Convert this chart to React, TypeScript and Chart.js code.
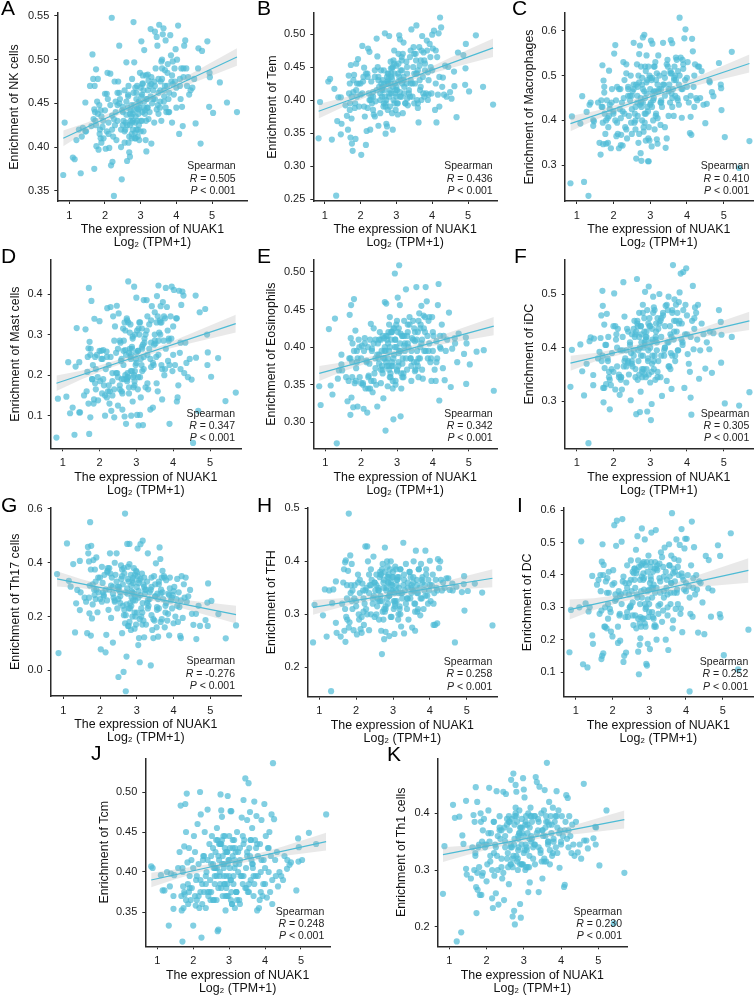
import React, { useEffect, useRef } from "react";
import { Chart, registerables } from "chart.js";

Chart.register(...registerables);

const FONT = "'Liberation Sans', Arial, sans-serif";
const BLUE = "#4DBBD5";
const POINT = "rgba(77,187,213,0.7)";
const BAND = "rgba(170,170,170,0.26)";

const xTicks = [1, 2, 3, 4, 5];
const fitX = [0.83, 5.7];
const bandX = [0.83, 1.5, 2.2, 3, 3.8, 4.5, 5.7];

const expression = [
  0.83,0.87,1.10,1.15,1.20,1.27,1.32,1.35,1.38,1.45,
  1.45,1.47,1.58,1.62,1.65,1.67,1.68,1.70,1.71,1.72,
  1.73,1.75,1.76,1.78,1.80,1.82,1.84,1.86,1.88,1.90,
  1.93,1.96,2.00,2.02,2.05,2.07,2.10,2.12,2.15,2.17,
  2.19,2.21,2.23,2.25,2.27,2.30,2.32,2.35,2.37,2.40,
  2.42,2.45,2.47,2.50,2.52,2.55,2.57,2.60,2.62,2.64,
  2.66,2.68,2.70,2.72,2.74,2.76,2.78,2.80,2.82,2.84,
  2.86,2.88,2.90,2.92,2.94,2.96,2.98,3.00,3.02,3.04,
  3.06,3.08,3.10,3.12,3.14,3.16,3.18,3.20,3.22,3.25,
  3.28,3.30,3.32,3.35,3.38,3.40,3.42,3.45,3.47,3.50,
  3.52,3.54,3.56,3.58,3.60,3.62,3.64,3.66,3.68,3.70,
  3.72,3.74,3.76,3.78,3.80,3.83,3.86,3.88,3.90,3.93,
  3.96,3.98,4.00,4.02,4.05,4.08,4.10,4.12,4.14,4.16,
  4.18,4.20,4.22,4.25,4.28,4.30,4.33,4.36,4.40,4.45,
  4.50,4.54,4.61,4.62,4.68,4.72,4.87,4.92,4.93,4.94,
  5.03,5.22,5.42,5.70,
  2.35,2.50,2.60,2.70,2.75,2.80,2.85,2.90,2.95,3.00,
  3.05,3.10,3.15,3.20,3.30,3.40,3.50,3.55,3.60,3.65,
  1.90,2.00,2.10,2.20,2.30,2.40,2.55,2.65,2.78,2.88,
  1.70,1.75,1.80,1.85,1.95,2.05,2.15,2.25,2.35,2.45,
  2.50,2.55,2.60,2.65,2.70,2.75,2.80,2.85,2.90,2.95,
  3.00,3.05,3.10,3.15,3.20,3.25,3.30,3.35,3.40,3.45,
  3.50,3.55,3.60,3.65,3.70,3.75,3.80,3.85,3.90,3.95,
  2.20,2.40,2.58,2.68,2.74,2.82,2.92,3.02,3.12,3.22,
  2.62,2.72,2.78,2.84,2.88,2.94,2.98,3.04,3.08,3.18,
  3.28,3.38,3.48,3.58,3.68,3.78,3.88,4.00,4.10,4.20,
  1.88,2.08,2.28,2.48,2.66,2.76,2.86,2.96,3.06,3.16,
];

const nkCells = [
  .368,.428,.388,.386,.408,.420,.370,.412,.422,.418,
  .451,.418,.470,.424,.506,.478,.432,.375,.470,.440,
  .430,.489,.401,.452,.478,.397,.448,.420,.442,.405,
  .423,.410,.461,.398,.461,.485,.415,.399,.484,.379,
  .548,.383,.412,.344,.475,.440,.408,.430,.475,.516,
  .455,.400,.363,.440,.430,.465,.420,.497,.384,.445,
  .405,.394,.389,.430,.448,.478,.420,.543,.497,.410,
  .435,.455,.470,.412,.443,.408,.485,.430,.521,.460,
  .473,.418,.511,.442,.408,.395,.455,.483,.432,.470,
  .535,.404,.450,.465,.428,.532,.490,.526,.516,.462,
  .540,.445,.475,.430,.500,.529,.536,.458,.488,.522,
  .440,.470,.495,.455,.440,.528,.475,.428,.498,.460,
  .475,.512,.445,.500,.539,.415,.470,.455,.490,.446,
  .424,.480,.516,.522,.490,.470,.480,.460,.465,.468,
  .478,.427,.490,.513,.404,.510,.521,.446,.485,.480,
  .439,.474,.451,.440,
  .448,.425,.452,.438,.410,.462,.428,.444,.425,.468,
  .440,.452,.482,.445,.472,.455,.438,.465,.478,.452,
  .435,.442,.428,.420,.452,.462,.405,.458,.438,.420,
  .443,.425,.438,.415,.430,.418,.448,.432,.462,.420,
  .446,.418,.437,.460,.425,.415,.442,.468,.430,.452,
  .418,.472,.445,.430,.465,.440,.480,.455,.470,.443,
  .478,.452,.490,.465,.445,.485,.462,.505,.472,.490,
  .436,.450,.428,.412,.435,.448,.420,.458,.438,.476,
  .425,.442,.430,.416,.462,.438,.450,.430,.465,.445,
  .458,.475,.448,.498,.470,.440,.482,.468,.478,.490,
  .410,.455,.425,.442,.470,.428,.410,.445,.482,.455,
];

const tem = [
  .342,.397,.428,.432,.340,.417,.255,.368,.404,.348,
  .404,.364,.392,.376,.355,.437,.410,.425,.395,.343,
  .453,.372,.334,.323,.412,.438,.388,.341,.455,.425,
  .462,.390,.408,.317,.482,.428,.449,.375,.332,.353,
  .440,.478,.410,.473,.355,.428,.395,.412,.378,.435,
  .398,.493,.466,.361,.420,.380,.445,.405,.430,.390,
  .415,.501,.349,.364,.360,.440,.425,.497,.390,.458,
  .410,.432,.355,.400,.475,.425,.385,.452,.415,.378,
  .470,.498,.492,.430,.405,.445,.380,.487,.420,.395,
  .458,.440,.392,.415,.465,.430,.507,.405,.450,.395,
  .425,.470,.513,.400,.445,.366,.480,.415,.460,.400,
  .497,.435,.472,.405,.455,.410,.475,.442,.408,.485,
  .450,.410,.499,.478,.505,.385,.425,.366,.465,.408,
  .501,.390,.525,.510,.420,.434,.408,.452,.405,.450,
  .412,.402,.443,.421,.374,.472,.468,.423,.448,.485,
  .413,.498,.420,.393,
  .405,.435,.418,.395,.428,.410,.448,.420,.440,.405,
  .428,.412,.460,.435,.402,.425,.470,.440,.388,.452,
  .405,.425,.390,.435,.405,.375,.410,.395,.432,.448,
  .385,.405,.430,.395,.425,.410,.440,.400,.385,.415,
  .430,.400,.415,.445,.390,.425,.405,.435,.450,.395,
  .420,.440,.405,.465,.430,.395,.450,.410,.475,.425,
  .440,.460,.395,.430,.475,.410,.445,.490,.430,.465,
  .388,.445,.425,.405,.435,.415,.460,.395,.445,.410,
  .420,.400,.440,.425,.380,.455,.415,.395,.435,.470,
  .425,.405,.480,.440,.420,.460,.400,.445,.475,.435,
  .415,.435,.400,.450,.425,.385,.440,.410,.455,.425,
];

const macrophages = [
  .260,.409,.393,.454,.263,.419,.232,.435,.440,.401,
  .388,.398,.440,.350,.324,.445,.430,.523,.395,.347,
  .489,.462,.415,.370,.348,.445,.405,.385,.511,.425,
  .338,.470,.415,.549,.568,.445,.395,.370,.338,.425,
  .470,.368,.440,.344,.530,.415,.385,.525,.360,.475,
  .410,.445,.500,.370,.465,.573,.395,.430,.315,.525,
  .410,.350,.548,.567,.327,.310,.495,.585,.375,.591,
  .450,.355,.545,.430,.309,.309,.500,.470,.578,.342,
  .571,.400,.450,.380,.530,.490,.358,.348,.545,.470,
  .390,.470,.430,.573,.505,.455,.339,.360,.535,.410,
  .480,.440,.579,.505,.572,.470,.410,.520,.455,.490,
  .535,.450,.510,.480,.629,.540,.406,.470,.515,.583,
  .603,.450,.495,.530,.440,.372,.408,.368,.582,.554,
  .475,.430,.525,.450,.445,.520,.520,.450,.510,.435,
  .394,.437,.488,.485,.463,.454,.528,.480,.472,.423,
  .363,.553,.294,.354,
  .505,.455,.380,.485,.440,.470,.415,.460,.520,.435,
  .495,.465,.410,.480,.445,.495,.470,.505,.450,.490,
  .435,.420,.475,.405,.490,.455,.470,.440,.480,.415,
  .430,.475,.400,.350,.440,.400,.470,.420,.380,.455,
  .425,.480,.400,.455,.370,.520,.440,.395,.485,.360,
  .495,.430,.520,.465,.405,.500,.440,.480,.385,.525,
  .465,.510,.430,.495,.540,.445,.500,.470,.525,.490,
  .345,.470,.415,.500,.450,.385,.490,.440,.520,.465,
  .480,.435,.400,.465,.510,.420,.355,.490,.445,.505,
  .440,.480,.520,.460,.500,.435,.535,.475,.455,.500,
  .410,.365,.450,.395,.475,.430,.520,.385,.460,.415,
];

const mastCells = [
  .046,.142,.147,.232,.106,.120,.053,.221,.316,.108,
  .232,.108,.150,.313,.160,.208,.245,.266,.415,.055,
  .282,.096,.265,.383,.190,.225,.130,.339,.245,.165,
  .250,.138,.333,.185,.240,.155,.262,.175,.100,.215,
  .258,.365,.160,.225,.130,.368,.112,.185,.345,.096,
  .320,.205,.371,.125,.352,.165,.280,.240,.115,.315,
  .190,.098,.262,.080,.340,.205,.431,.155,.305,.245,
  .100,.265,.135,.195,.418,.300,.225,.391,.102,.260,
  .076,.330,.102,.145,.225,.210,.077,.385,.290,.170,
  .385,.250,.165,.325,.115,.280,.370,.120,.225,.355,
  .278,.245,.395,.160,.421,.305,.335,.370,.225,.140,
  .380,.285,.200,.340,.415,.368,.235,.285,.080,.345,
  .418,.210,.320,.410,.225,.340,.135,.145,.175,.408,
  .255,.215,.373,.406,.396,.205,.280,.230,.195,.240,
  .189,.033,.396,.243,.112,.355,.363,.300,.225,.256,
  .196,.242,.136,.157,
  .150,.265,.190,.310,.185,.255,.210,.295,.175,.230,
  .260,.195,.315,.245,.345,.220,.300,.180,.285,.330,
  .215,.260,.190,.145,.245,.285,.175,.225,.330,.210,
  .130,.250,.190,.140,.195,.260,.150,.175,.205,.255,
  .195,.285,.160,.260,.200,.335,.170,.240,.290,.185,
  .255,.195,.330,.270,.215,.300,.180,.265,.335,.230,
  .285,.330,.250,.300,.215,.345,.265,.310,.225,.290,
  .245,.165,.235,.330,.190,.265,.170,.310,.240,.280,
  .155,.250,.195,.325,.270,.200,.240,.165,.300,.275,
  .310,.240,.275,.345,.330,.215,.290,.250,.340,.280,
  .180,.240,.160,.205,.285,.195,.250,.210,.315,.265,
];

const eosinophils = [
  .348,.323,.424,.349,.337,.438,.272,.358,.369,.377,
  .390,.369,.360,.328,.355,.385,.443,.310,.412,.456,
  .333,.380,.405,.320,.464,.352,.422,.372,.395,.321,
  .410,.360,.385,.402,.352,.318,.412,.345,.382,.313,
  .400,.362,.378,.345,.431,.398,.340,.425,.365,.385,
  .350,.321,.405,.378,.420,.352,.395,.365,.332,.412,
  .460,.289,.458,.375,.348,.420,.395,.440,.365,.410,
  .380,.345,.304,.425,.498,.355,.400,.435,.466,.375,
  .509,.456,.308,.345,.415,.385,.360,.435,.395,.477,
  .370,.420,.400,.440,.385,.355,.412,.435,.380,.408,
  .370,.480,.395,.420,.360,.445,.385,.430,.455,.410,
  .358,.442,.395,.420,.480,.461,.385,.435,.405,.380,
  .355,.440,.395,.415,.370,.355,.408,.385,.456,.484,
  .329,.415,.398,.430,.372,.415,.356,.395,.410,.446,
  .347,.398,.412,.405,.380,.418,.391,.413,.351,.405,
  .377,.394,.396,.342,
  .405,.390,.370,.415,.385,.400,.375,.425,.410,.368,
  .392,.418,.378,.402,.430,.395,.368,.410,.385,.425,
  .385,.352,.405,.360,.395,.372,.410,.385,.430,.375,
  .385,.360,.395,.355,.400,.350,.380,.410,.355,.390,
  .410,.370,.415,.395,.380,.405,.360,.420,.385,.410,
  .370,.425,.395,.360,.415,.385,.405,.430,.375,.410,
  .420,.380,.435,.400,.370,.425,.395,.415,.440,.385,
  .345,.410,.375,.395,.415,.360,.390,.420,.365,.405,
  .385,.410,.370,.420,.355,.400,.430,.380,.405,.365,
  .415,.385,.425,.375,.405,.440,.395,.420,.380,.400,
  .380,.395,.355,.385,.400,.375,.420,.350,.395,.415,
];

const iDC = [
  .327,.396,.406,.356,.311,.370,.222,.412,.419,.330,
  .349,.417,.380,.392,.418,.460,.375,.506,.478,.325,
  .298,.443,.362,.405,.332,.463,.380,.420,.355,.285,
  .330,.390,.440,.501,.322,.415,.365,.435,.350,.312,
  .395,.345,.322,.420,.522,.458,.380,.335,.435,.372,
  .350,.405,.302,.425,.365,.385,.450,.345,.276,.528,
  .440,.375,.465,.280,.318,.410,.355,.480,.400,.430,
  .504,.345,.420,.281,.380,.514,.455,.335,.265,.295,
  .415,.495,.360,.470,.340,.430,.395,.455,.375,.500,
  .345,.420,.310,.465,.385,.440,.478,.338,.410,.495,
  .365,.440,.390,.323,.470,.554,.415,.490,.375,.450,
  .430,.465,.395,.485,.503,.538,.445,.410,.541,.325,
  .480,.548,.425,.388,.370,.355,.307,.275,.450,.515,
  .397,.435,.475,.465,.415,.480,.342,.395,.445,.425,
  .361,.410,.397,.430,.353,.427,.470,.448,.372,.424,
  .296,.420,.292,.317,
  .395,.370,.425,.350,.440,.385,.410,.360,.445,.400,
  .435,.375,.415,.345,.455,.400,.365,.425,.385,.450,
  .340,.355,.400,.345,.375,.430,.395,.445,.360,.415,
  .385,.325,.405,.375,.360,.440,.345,.395,.365,.410,
  .375,.435,.360,.450,.420,.385,.465,.350,.430,.395,
  .440,.370,.475,.420,.355,.445,.385,.460,.400,.480,
  .410,.360,.465,.430,.480,.395,.450,.415,.470,.425,
  .340,.375,.420,.395,.440,.360,.470,.410,.385,.435,
  .430,.400,.345,.455,.420,.375,.440,.355,.465,.410,
  .450,.395,.470,.420,.385,.445,.405,.460,.420,.455,
  .345,.425,.365,.390,.340,.425,.405,.350,.385,.445,
];

const th17Cells = [
  .358,.064,.472,.333,.311,.395,.141,.249,.299,.407,
  .224,.290,.270,.255,.138,.459,.435,.405,.212,.315,
  .551,.129,.463,.193,.245,.410,.300,.375,.265,.420,
  .216,.290,.265,.078,.385,.325,.275,.355,.067,.132,
  .260,.380,.225,.300,.435,.195,.345,.103,.270,.400,
  .355,.435,.230,-.025,.310,.275,.390,.138,.240,-.006,
  .360,.583,-.078,.051,.470,.165,.330,.470,.250,.150,
  .295,.200,.345,.380,.155,.260,.170,.310,.453,.094,
  .120,.030,.469,.230,.360,.482,.185,.123,.285,.170,
  .330,.435,.240,.290,.018,.205,.150,.120,.350,.320,
  .398,.160,.285,.125,.230,.457,.414,.300,.190,.370,
  .265,.350,.160,.240,.335,.185,.285,.130,.345,.260,
  .230,.280,.175,.310,.200,.265,.340,.180,.290,.235,
  .128,.120,.350,.195,.320,.270,.345,.255,.275,.299,
  .210,.169,.210,.116,.240,.165,.187,.252,.165,.323,
  .258,.209,.119,.167,
  .310,.265,.350,.205,.285,.395,.240,.325,.275,.365,
  .295,.340,.215,.310,.260,.345,.275,.225,.330,.285,
  .300,.345,.280,.365,.315,.255,.290,.380,.230,.335,
  .270,.375,.320,.280,.345,.255,.300,.380,.285,.330,
  .300,.250,.375,.205,.290,.340,.180,.315,.260,.355,
  .215,.325,.280,.170,.345,.300,.230,.265,.310,.190,
  .275,.235,.320,.180,.290,.345,.250,.210,.305,.270,
  .370,.260,.340,.175,.305,.230,.285,.350,.200,.300,
  .320,.245,.165,.355,.290,.215,.370,.270,.190,.320,
  .250,.300,.185,.265,.345,.215,.280,.295,.240,.260,
  .330,.290,.360,.310,.225,.385,.270,.200,.335,.250,
];

const tfh = [
  .247,.318,.298,.347,.258,.345,.155,.321,.347,.284,
  .362,.265,.258,.320,.360,.385,.269,.398,.248,.402,
  .295,.330,.290,.382,.490,.285,.411,.355,.395,.310,
  .270,.355,.325,.262,.375,.300,.340,.272,.265,.358,
  .345,.280,.320,.428,.310,.428,.400,.270,.355,.300,
  .365,.330,.409,.295,.345,.375,.315,.350,.290,.370,
  .335,.269,.225,.395,.360,.253,.426,.267,.345,.400,
  .320,.375,.259,.340,.400,.295,.355,.380,.310,.263,
  .390,.345,.325,.370,.290,.350,.310,.385,.277,.330,
  .435,.264,.345,.395,.310,.360,.290,.380,.330,.355,
  .275,.345,.400,.320,.269,.420,.365,.305,.340,.385,
  .350,.298,.395,.330,.370,.310,.355,.420,.385,.335,
  .365,.345,.401,.325,.355,.375,.280,.340,.280,.365,
  .350,.283,.404,.387,.400,.365,.345,.360,.350,.368,
  .368,.346,.358,.345,.247,.352,.342,.357,.372,.307,
  .344,.358,.341,.279,
  .340,.360,.325,.385,.350,.315,.370,.335,.360,.345,
  .325,.365,.340,.300,.375,.330,.350,.360,.320,.340,
  .345,.315,.365,.330,.300,.385,.355,.325,.305,.370,
  .310,.355,.275,.340,.330,.360,.295,.345,.375,.320,
  .360,.300,.345,.380,.325,.365,.310,.390,.335,.355,
  .370,.315,.355,.300,.385,.340,.365,.320,.350,.380,
  .340,.370,.305,.355,.385,.330,.360,.345,.375,.320,
  .305,.355,.330,.375,.290,.350,.385,.325,.365,.340,
  .345,.305,.380,.330,.360,.295,.370,.340,.385,.315,
  .355,.330,.370,.345,.310,.365,.335,.355,.320,.345,
  .325,.290,.350,.335,.375,.310,.360,.345,.320,.370,
];

const dc = [
  .161,.292,.300,.504,.124,.312,.114,.287,.300,.213,
  .397,.187,.370,.385,.280,.400,.350,.140,.441,.150,
  .495,.158,.431,.240,.300,.380,.235,.390,.310,.410,
  .295,.225,.210,.415,.554,.320,.490,.568,.190,.350,
  .275,.197,.340,.503,.573,.131,.150,.345,.160,.430,
  .270,.375,.300,.445,.350,.410,.245,.385,.275,.478,
  .340,.520,.163,.093,.184,.204,.430,.544,.265,.405,
  .355,.510,.240,.125,.120,.187,.460,.310,.171,.425,
  .531,.285,.410,.370,.240,.345,.539,.200,.430,.280,
  .390,.345,.470,.255,.425,.350,.485,.200,.360,.275,
  .168,.495,.395,.310,.460,.591,.235,.420,.345,.380,
  .295,.510,.355,.425,.400,.493,.296,.542,.223,.385,
  .482,.512,.350,.512,.400,.365,.040,.280,.430,.565,
  .271,.390,.486,.340,.400,.355,.222,.380,.375,.315,
  .217,.459,.359,.446,.271,.352,.492,.279,.459,.269,
  .152,.529,.108,.231,
  .375,.305,.420,.265,.385,.330,.440,.295,.410,.355,
  .385,.270,.420,.360,.310,.395,.340,.430,.375,.405,
  .345,.370,.325,.280,.395,.360,.315,.405,.350,.250,
  .290,.400,.240,.345,.285,.375,.240,.310,.270,.340,
  .385,.275,.420,.235,.445,.310,.395,.265,.430,.350,
  .285,.440,.360,.245,.420,.305,.380,.455,.330,.410,
  .300,.430,.375,.260,.410,.345,.445,.280,.395,.355,
  .335,.285,.405,.330,.250,.435,.300,.375,.265,.415,
  .360,.425,.240,.385,.310,.440,.270,.395,.330,.240,
  .435,.290,.385,.345,.450,.310,.405,.375,.330,.360,
  .265,.340,.380,.300,.415,.270,.390,.325,.360,.440,
];

const tcm = [
  .407,.405,.396,.377,.377,.400,.333,.382,.398,.354,
  .370,.396,.405,.425,.483,.370,.352,.313,.400,.382,
  .355,.432,.372,.485,.450,.498,.412,.360,.430,.395,
  .365,.380,.333,.445,.425,.358,.395,.460,.370,.355,
  .500,.472,.318,.385,.415,.375,.450,.355,.400,.478,
  .370,.435,.390,.410,.445,.365,.405,.385,.425,.440,
  .455,.326,.328,.415,.395,.497,.477,.469,.370,.445,
  .410,.430,.352,.395,.425,.495,.370,.445,.405,.476,
  .476,.360,.420,.385,.440,.355,.410,.375,.450,.400,
  .365,.430,.395,.468,.385,.490,.440,.517,.405,.465,
  .375,.511,.430,.475,.390,.415,.455,.405,.370,.488,
  .440,.395,.470,.352,.420,.355,.435,.400,.465,.370,
  .415,.485,.385,.445,.368,.430,.400,.450,.375,.420,
  .472,.360,.536,.466,.415,.395,.425,.382,.400,.395,
  .390,.420,.404,.415,.409,.412,.377,.442,.413,.431,
  .415,.449,.435,.472,
  .385,.420,.405,.380,.435,.410,.395,.425,.385,.415,
  .390,.430,.405,.375,.415,.395,.425,.385,.440,.410,
  .380,.405,.365,.390,.420,.375,.410,.395,.435,.385,
  .405,.375,.365,.385,.415,.370,.410,.360,.395,.375,
  .375,.430,.395,.365,.420,.385,.440,.405,.370,.425,
  .395,.365,.440,.415,.375,.425,.360,.395,.435,.380,
  .420,.375,.440,.410,.385,.430,.395,.365,.415,.385,
  .375,.415,.365,.440,.400,.420,.380,.430,.395,.365,
  .405,.435,.380,.410,.445,.370,.415,.390,.360,.425,
  .410,.445,.380,.420,.395,.435,.375,.405,.430,.390,
  .375,.390,.420,.365,.405,.435,.385,.410,.375,.430,
];

const th1Cells = [
  .258,.342,.415,.392,.174,.394,.190,.361,.346,.422,
  .302,.292,.285,.340,.397,.300,.385,.325,.446,.270,
  .224,.420,.265,.340,.305,.256,.400,.256,.350,.295,
  .390,.340,.280,.310,.405,.445,.315,.365,.250,.233,
  .385,.290,.345,.259,.439,.300,.239,.395,.355,.320,
  .285,.438,.247,.360,.434,.390,.330,.275,.370,.310,
  .459,.340,.218,.470,.228,.204,.450,.438,.385,.320,
  .355,.405,.240,.216,.310,.375,.462,.442,.428,.300,
  .395,.340,.365,.261,.305,.278,.410,.350,.385,.320,
  .395,.345,.464,.455,.370,.261,.447,.330,.400,.285,
  .360,.405,.441,.375,.315,.489,.385,.350,.420,.335,
  .395,.365,.325,.410,.350,.385,.340,.439,.375,.405,
  .304,.370,.345,.395,.360,.270,.274,.385,.432,.355,
  .427,.370,.395,.360,.330,.380,.345,.325,.385,.331,
  .345,.320,.452,.352,.352,.338,.356,.376,.345,.375,
  .308,.405,.206,.295,
  .370,.340,.385,.320,.355,.395,.335,.375,.310,.360,
  .345,.380,.325,.360,.395,.340,.370,.315,.385,.350,
  .370,.345,.325,.385,.360,.305,.380,.340,.410,.365,
  .330,.295,.345,.385,.345,.365,.300,.340,.375,.295,
  .350,.320,.395,.345,.305,.380,.325,.360,.310,.390,
  .330,.385,.305,.355,.395,.340,.310,.365,.385,.335,
  .370,.320,.395,.345,.310,.380,.355,.395,.330,.365,
  .330,.370,.305,.390,.345,.315,.375,.335,.400,.355,
  .385,.325,.400,.300,.365,.345,.310,.380,.335,.395,
  .345,.390,.315,.360,.380,.330,.395,.350,.370,.340,
  .290,.350,.325,.375,.310,.395,.340,.365,.305,.375,
];

type Panel = {
  letter: string; name: string; ys: number[]; r: string;
  fit: number[]; lo: number[]; hi: number[]; yTicks: number[]; dec: number;
  // layout in page pixels
  axis: number; right: number; top: number; bottom: number; x1: number; x5: number;
  yA: [number, number]; yB: [number, number]; titleX: number; noteR: number;
  letterX: number; letterBase: number;
};

const panels: Panel[] = [
  { letter: "A", name: "NK cells", ys: nkCells, r: "0.505", fit: [.41, .503],
    lo: [.401,.418,.433,.449,.463,.474,.493], hi: [.419,.428,.440,.454,.470,.486,.513],
    yTicks: [.35,.40,.45,.50,.55], dec: 2, axis: 57.3, right: 247.5, top: 13, bottom: 201, x1: 69.3, x5: 212,
    yA: [.55,16], yB: [.35,190.7], titleX: 15, noteR: 235.7, letterX: 1, letterBase: 15 },
  { letter: "B", name: "Tem", ys: tem, r: "0.436", fit: [.383, .479],
    lo: [.372,.389,.405,.422,.437,.448,.465], hi: [.394,.403,.414,.430,.446,.464,.493],
    yTicks: [.25,.30,.35,.40,.45,.50], dec: 2, axis: 313.3, right: 497, top: 13, bottom: 201, x1: 324.7, x5: 468,
    yA: [.50,34], yB: [.25,199], titleX: 272.3, noteR: 492.7, letterX: 257, letterBase: 15 },
  { letter: "C", name: "Macrophages", ys: macrophages, r: "0.410", fit: [.393, .527],
    lo: [.376,.401,.424,.447,.468,.483,.507], hi: [.410,.421,.438,.459,.482,.505,.547],
    yTicks: [.3,.4,.5,.6], dec: 1, axis: 564.7, right: 753, top: 13, bottom: 201, x1: 576.7, x5: 723.7,
    yA: [.6,30.7], yB: [.3,165.3], titleX: 530, noteR: 749.3, letterX: 512, letterBase: 15 },
  { letter: "D", name: "Mast cells", ys: mastCells, r: "0.347", fit: [.18, .327],
    lo: [.161,.189,.215,.240,.263,.279,.305], hi: [.199,.211,.229,.252,.277,.303,.349],
    yTicks: [.1,.2,.3,.4], dec: 1, axis: 50.7, right: 241, top: 260, bottom: 448.3, x1: 62.7, x5: 210,
    yA: [.4,294], yB: [.1,415.7], titleX: 16, noteR: 235, letterX: 1, letterBase: 263 },
  { letter: "E", name: "Eosinophils", ys: eosinophils, r: "0.342", fit: [.365, .428],
    lo: [.355,.368,.379,.390,.400,.406,.416], hi: [.375,.380,.387,.396,.408,.420,.440],
    yTicks: [.30,.35,.40,.45,.50], dec: 2, axis: 313.3, right: 497, top: 260, bottom: 448.3, x1: 325.3, x5: 468.7,
    yA: [.50,272], yB: [.30,422.3], titleX: 272, noteR: 492.7, letterX: 257, letterBase: 263 },
  { letter: "F", name: "iDC", ys: iDC, r: "0.305", fit: [.371, .45],
    lo: [.357,.374,.387,.401,.413,.421,.433], hi: [.385,.390,.399,.411,.425,.439,.467],
    yTicks: [.3,.4,.5], dec: 1, axis: 564.7, right: 753, top: 260, bottom: 448.3, x1: 576.7, x5: 723.7,
    yA: [.5,294], yB: [.3,401.3], titleX: 530, noteR: 749.3, letterX: 514, letterBase: 263 },
  { letter: "G", name: "Th17 cells", ys: th17Cells, r: "-0.276", fit: [.34, .207],
    lo: [.312,.305,.292,.272,.248,.221,.174], hi: [.368,.339,.314,.290,.270,.259,.240],
    yTicks: [0,.2,.4,.6], dec: 1, axis: 50.7, right: 241, top: 507.7, bottom: 696, x1: 63.3, x5: 210.3,
    yA: [.6,509], yB: [0,670.3], titleX: 15.7, noteR: 235, letterX: 1, letterBase: 512 },
  { letter: "H", name: "TFH", ys: tfh, r: "0.258", fit: [.313, .368],
    lo: [.299,.312,.323,.333,.341,.346,.351], hi: [.327,.330,.335,.343,.353,.364,.385],
    yTicks: [.2,.3,.4,.5], dec: 1, axis: 307.7, right: 497, top: 507.7, bottom: 696.7, x1: 319.3, x5: 466.7,
    yA: [.5,508.3], yB: [.2,667.3], titleX: 272, noteR: 492.3, letterX: 257, letterBase: 512 },
  { letter: "I", name: "DC", ys: dc, r: "0.252", fit: [.293, .414],
    lo: [.262,.292,.315,.337,.355,.364,.376], hi: [.324,.328,.339,.357,.379,.406,.452],
    yTicks: [.1,.2,.3,.4,.5,.6], dec: 1, axis: 563.7, right: 753, top: 508, bottom: 696.7, x1: 575.7, x5: 722.7,
    yA: [.6,510.3], yB: [.1,672], titleX: 528, noteR: 748.3, letterX: 517, letterBase: 512 },
  { letter: "J", name: "Tcm", ys: tcm, r: "0.248", fit: [.39, .438],
    lo: [.381,.391,.400,.408,.415,.420,.427], hi: [.399,.403,.408,.414,.423,.432,.449],
    yTicks: [.35,.40,.45,.50], dec: 2, axis: 145.3, right: 330, top: 758.3, bottom: 946.3, x1: 157.3, x5: 301,
    yA: [.50,792], yB: [.35,912], titleX: 105, noteR: 324.3, letterX: 91, letterBase: 760 },
  { letter: "K", name: "Th1 cells", ys: th1Cells, r: "0.230", fit: [.327, .389],
    lo: [.314,.327,.339,.350,.360,.364,.373], hi: [.340,.343,.349,.358,.370,.382,.405],
    yTicks: [.2,.3,.4], dec: 1, axis: 437.7, right: 627, top: 758.3, bottom: 946.3, x1: 449.3, x5: 598.3,
    yA: [.4,813.3], yB: [.2,926.7], titleX: 401.7, noteR: 622, letterX: 387, letterBase: 761 },
];

function ScatterPanel({ p }: { p: Panel }) {
  const ref = useRef<HTMLCanvasElement>(null);
  const TITLE_LH = 12.6;
  const left = Math.floor(p.titleX - TITLE_LH / 2 - 1);
  // the top margin must exceed half a tick label plus the tick padding, or Chart.js insets the y scale
  const top = Math.floor(p.top) - 14;
  const width = Math.ceil(p.right + 4 - left);
  const height = Math.ceil(p.bottom + 48 - top);

  useEffect(() => {
    const pxPerX = (p.x5 - p.x1) / 4;
    const pxPerY = (p.yB[1] - p.yA[1]) / (p.yA[0] - p.yB[0]);
    const chart = new Chart(ref.current as HTMLCanvasElement, {
      type: "scatter",
      data: {
        datasets: [
          { type: "line", data: fitX.map((x, i) => ({ x, y: p.fit[i] })), borderColor: BLUE, borderWidth: 1.2, pointRadius: 0, fill: false, order: 0 },
          { type: "line", data: bandX.map((x, i) => ({ x, y: p.hi[i] })), borderWidth: 0, pointRadius: 0, backgroundColor: BAND, fill: "+1", order: 1 },
          { type: "line", data: bandX.map((x, i) => ({ x, y: p.lo[i] })), borderWidth: 0, pointRadius: 0, fill: false, order: 1 },
          { type: "scatter", data: expression.map((x, i) => ({ x, y: p.ys[i] })), backgroundColor: POINT, borderWidth: 0, pointRadius: 3.1, order: 2, clip: false },
        ] as any,
      },
      options: {
        animation: false,
        responsive: false,
        devicePixelRatio: 1,
        layout: {
          autoPadding: false,
          padding: { top: p.top - top, right: left + width - p.right, left: 0, bottom: 0 },
        },
        plugins: { legend: { display: false }, tooltip: { enabled: false } },
        scales: {
          x: {
            type: "linear",
            min: 1 + (p.axis - p.x1) / pxPerX,
            max: 1 + (p.right - p.x1) / pxPerX,
            afterFit: (s: any) => { s.height = top + height - p.bottom; },
            afterBuildTicks: (s: any) => { s.ticks = xTicks.map((value) => ({ value })); },
            border: { display: true, color: "#2a2a2a", width: 1.5 },
            grid: { drawOnChartArea: false, drawTicks: true, tickLength: 3, tickColor: "#2a2a2a", tickWidth: 1 },
            ticks: { color: "#1c1c1c", font: { family: FONT, size: 11 }, padding: 5, autoSkip: false, maxRotation: 0, callback: (v: any) => String(v) },
            title: {
              display: true,
              text: ["The expression of NUAK1", "Log\u2082 (TPM+1)"],
              color: "#111",
              font: { family: FONT, size: 12.4, lineHeight: 1.02 },
              padding: { top: 0, bottom: 0 },
            },
          },
          y: {
            type: "linear",
            min: p.yA[0] - (p.bottom - p.yA[1]) / pxPerY,
            max: p.yA[0] + (p.yA[1] - p.top) / pxPerY,
            afterFit: (s: any) => { s.width = p.axis - left; },
            afterBuildTicks: (s: any) => { s.ticks = p.yTicks.map((value) => ({ value })); },
            border: { display: true, color: "#2a2a2a", width: 1.5 },
            grid: { drawOnChartArea: false, drawTicks: true, tickLength: 3, tickColor: "#2a2a2a", tickWidth: 1 },
            ticks: { color: "#1c1c1c", font: { family: FONT, size: 11 }, padding: 5, autoSkip: false, callback: (v: any) => Number(v).toFixed(p.dec) },
            title: {
              display: true,
              text: "Enrichment of " + p.name,
              color: "#111",
              font: { family: FONT, size: 12.4, lineHeight: 1.02 },
              padding: { top: p.titleX - left - TITLE_LH / 2, bottom: 0 },
            },
          },
        },
      } as any,
    });
    return () => chart.destroy();
  }, []);

  return (
    <>
      <canvas
        ref={ref}
        width={width}
        height={height}
        style={{ position: "absolute", left, top, width, height, display: "block" }}
      />
      <div style={{ position: "absolute", left: p.letterX, top: p.letterBase - 18, font: `21px/21px ${FONT}`, color: "#000" }}>
        {p.letter}
      </div>
      <div style={{ position: "absolute", left: p.noteR - 90, width: 90, top: p.bottom - 41.7, textAlign: "right", font: `10.5px/12.4px ${FONT}`, color: "#222" }}>
        <div>Spearman</div>
        <div><i>R</i> = {p.r}</div>
        <div><i>P</i> &lt; 0.001</div>
      </div>
    </>
  );
}

export default function App() {
  return (
    <div style={{ position: "absolute", left: 0, top: 0, width: 755, height: 995, overflow: "hidden", background: "#fff" }}>
      {panels.map((p) => (
        <ScatterPanel key={p.letter} p={p} />
      ))}
    </div>
  );
}
